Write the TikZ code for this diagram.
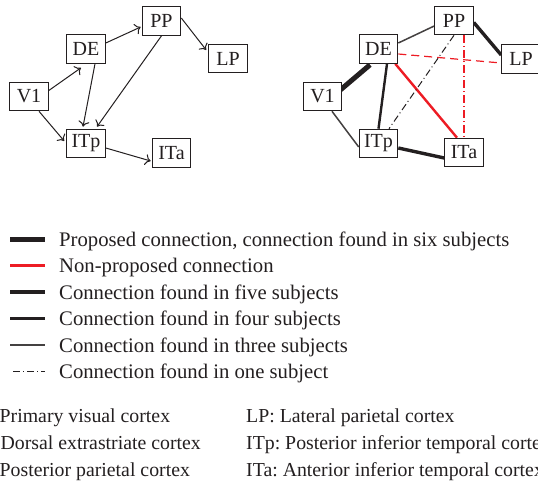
\documentclass[tikz,border=0pt]{standalone}
\usepackage{fontspec}
\setmainfont{Liberation Serif}
\frenchspacing
\usetikzlibrary{calc,arrows.meta}
\pgfdeclarelayer{edgelayer}
\pgfsetlayers{edgelayer,main}
\definecolor{ink}{HTML}{231F20}
\definecolor{redline}{HTML}{ED1C24}
\tikzset{
  box/.style={draw=ink, line width=1.1pt, fill=white, minimum width=38.5pt, minimum height=28.5pt, inner sep=0pt, text=ink, font=\fontsize{20}{22}\selectfont},
  arr/.style={draw=ink, line width=1pt, -{To[length=5.5pt,width=11pt]}},
  sixsub/.style={draw=ink, line width=5pt},
  fivesub/.style={draw=ink, line width=3.4pt},
  foursub/.style={draw=ink, line width=2.4pt},
  threesub/.style={draw=ink!85, line width=1.5pt},
  onesub/.style={draw=ink, line width=1pt, dash pattern=on 7pt off 3pt on 1pt off 3pt},
  nonprop/.style={draw=redline, line width=2.4pt},
  nonpropdash/.style={draw=redline, line width=1.2pt, dash pattern=on 8pt off 5pt},
  nonpropdot/.style={draw=redline, line width=1.2pt, dash pattern=on 8pt off 3pt on 1pt off 3pt},
  legtext/.style={anchor=base west, inner sep=0pt, text=ink, font=\fontsize{20.7}{22}\selectfont},
  keytext/.style={anchor=base west, inner sep=0pt, text=ink, font=\fontsize{19.8}{22}\selectfont},
}
\begin{document}
\begin{tikzpicture}[x=1pt,y=-1pt]
\useasboundingbox (0,0) rectangle (538,484);
\clip (0,0) rectangle (538,484);
% ---------- left diagram ----------
\node[box] (V1) at (29,96.5) {V1};
\node[box] (DE) at (86,49) {DE};
\node[box] (PP) at (161.5,21) {PP};
\node[box] (LP) at (228,58.5) {LP};
\node[box] (ITp) at (86,143.5) {ITp};
\node[box] (ITa) at (171.5,153) {ITa};
\draw[arr] ($(V1.east)+(0,-6)$) -- ($(DE.south)+(-5,4)$);
\draw[arr] ($(DE.east)+(0,-6)$) -- ($(PP.west)+(-1,6)$);
\draw[arr] ($(PP.east)+(0,-3)$) -- ($(LP.west)+(-2,-8.5)$);
\draw[arr] ($(DE.south)+(9,0)$) -- ($(ITp.north)+(-3,-2)$);
\draw[arr] (PP.south) -- ($(ITp.north)+(11,-2)$);
\draw[arr] ($(V1.south)+(10,0)$) -- ($(ITp.west)+(-2,-2.5)$);
\draw[arr] ($(ITp.east)+(0,4.5)$) -- ($(ITa.west)+(-1,8)$);
% ---------- right diagram ----------
\node[box] (V1r) at (322.5,96.5) {V1};
\node[box] (DEr) at (378.5,49) {DE};
\node[box] (PPr) at (454,20.5) {PP};
\node[box] (LPr) at (521,59) {LP};
\node[box] (ITpr) at (378.5,143.5) {ITp};
\node[box] (ITar) at (464,152.5) {ITa};
\begin{pgfonlayer}{edgelayer}
\draw[sixsub] ($(V1r.east)+(-2,-6.5)$) -- ($(DEr.south)+(-8.5,1)$);
\draw[threesub] ($(DEr.east)+(0,-6)$) -- ($(PPr.west)+(0,5.5)$);
\draw[nonpropdash] ($(DEr.east)+(0,5)$) -- ($(LPr.west)+(0,4)$);
\draw[nonprop] ($(DEr.south east)+(-3,0)$) -- ($(ITar.north)+(-7,0)$);
\draw[foursub] ($(DEr.south)+(8.5,0)$) -- (ITpr.north);
\draw[fivesub] ($(PPr.east)+(0,2)$) -- ($(LPr.west)+(0,-4)$);
\draw[onesub] (PPr.south) -- ($(ITpr.north)+(10.5,0)$);
\draw[nonpropdot] ($(PPr.south)+(10,0)$) -- (ITar.north);
\draw[threesub] ($(V1r.south)+(9.5,0)$) -- ($(ITpr.west)+(0,3.5)$);
\draw[fivesub] ($(ITpr.east)+(0,4.5)$) -- ($(ITar.west)+(0,5.5)$);
\end{pgfonlayer}
% ---------- legend ----------
\coordinate (l1a) at (10,239); \coordinate (l1b) at (45,239);
\coordinate (l2a) at (10,265.5); \coordinate (l2b) at (45,265.5);
\coordinate (l3a) at (10,292); \coordinate (l3b) at (45,292);
\coordinate (l4a) at (10,318.5); \coordinate (l4b) at (45,318.5);
\coordinate (l5a) at (10,345); \coordinate (l5b) at (45,345);
\coordinate (l6a) at (10,371.5); \coordinate (l6b) at (45,371.5);
\draw[sixsub] (l1a) -- (l1b);
\draw[nonprop] (l2a) -- (l2b);
\draw[fivesub] (l3a) -- (l3b);
\draw[foursub] (l4a) -- (l4b);
\draw[threesub] (l5a) -- (l5b);
\draw[onesub, dash phase=11pt] (l6a) -- (l6b);
\node[legtext] (t1) at (59,246) {Proposed connection, connection found in six subjects};
\node[legtext] (t2) at (59,272.5) {Non-proposed connection};
\node[legtext] (t3) at (59,299) {Connection found in five subjects};
\node[legtext] (t4) at (59,325.5) {Connection found in four subjects};
\node[legtext] (t5) at (59,352) {Connection found in three subjects};
\node[legtext] (t6) at (59,378.5) {Connection found in one subject};
% ---------- key ----------
\node[keytext] (k1) at (-0.5,422) {Primary visual cortex};
\node[keytext] (k2) at (0.5,449) {Dorsal extrastriate cortex};
\node[keytext] (k3) at (-0.5,476) {Posterior parietal cortex};
\node[keytext] (k4) at (246,422) {LP: Lateral parietal cortex};
\node[keytext] (k5) at (246,449) {ITp: Posterior inferior temporal cortex};
\node[keytext] (k6) at (246,476) {ITa: Anterior inferior temporal cortex};
\end{tikzpicture}
\end{document}
